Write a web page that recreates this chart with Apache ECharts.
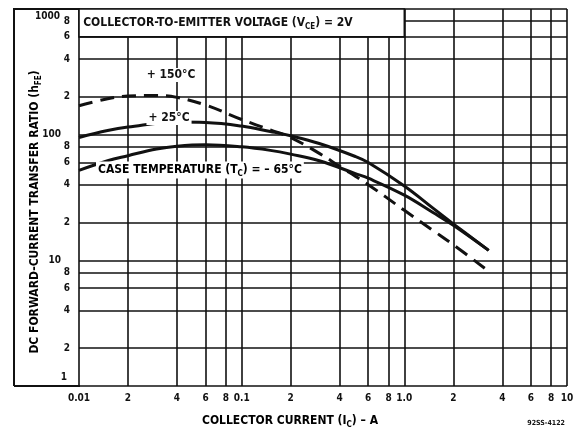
<!DOCTYPE html>
<html>
<head>
<meta charset="utf-8">
<script src="https://cdn.jsdelivr.net/npm/echarts@6/dist/echarts.min.js"></script>
<style>
  html, body { margin: 0; padding: 0; background: #fff; }
  #chart { width: 577px; height: 434px; }
</style>
</head>
<body>
<div id="chart"></div>
<script>
// collector current (A) vs dc forward-current transfer ratio, per case temperature
var ic150 = [0.01, 0.015, 0.02, 0.03, 0.04, 0.06, 0.1, 0.15, 0.2, 0.3, 0.4, 0.6, 1.0, 1.5, 2.0, 3.3];
var hfe150 = [170, 193, 203, 205, 198, 172, 132, 109, 95, 71, 56, 40, 25, 17.3, 13.3, 8.2];

var ic25 = [0.01, 0.015, 0.02, 0.04, 0.06, 0.1, 0.15, 0.2, 0.3, 0.5, 0.6, 1.0, 1.5, 2.0, 3.3];
var hfe25 = [95, 108, 115, 126, 125, 117, 106, 98, 85, 67, 60, 39, 26, 19.5, 12];

var icM65 = [0.01, 0.015, 0.02, 0.03, 0.04, 0.06, 0.1, 0.15, 0.2, 0.3, 0.5, 0.6, 1.0, 1.5, 2.0, 3.3];
var hfeM65 = [52, 62, 68, 77, 81, 83, 80, 75, 70, 62, 49, 45, 33, 24, 19, 12];

var xTickValues = [0.01, 0.02, 0.04, 0.06, 0.08, 0.1, 0.2, 0.4, 0.6, 0.8, 1, 2, 4, 6, 8, 10];
var xTickLabels = ['0.01', '2', '4', '6', '8', '0.1', '2', '4', '6', '8', '1.0', '2', '4', '6', '8', '10'];
var yTickValues = [1, 2, 4, 6, 8, 10, 20, 40, 60, 80, 100, 200, 400, 600, 800, 1000];
var yTickLabels = ['1', '2', '4', '6', '8', '10', '2', '4', '6', '8', '100', '2', '4', '6', '8', '1000'];

function pairs(xs, ys) {
  return xs.map(function (x, i) { return [x, ys[i]]; });
}

var font = 'DejaVu Sans Condensed';
var ink = '#111';
var tickFont = { fontFamily: font, fontWeight: 'bold', fontSize: 10, color: ink };

// grid lines drawn as mark lines so the 2-4-6-8 log subdivisions show
var gridLines = [];
xTickValues.forEach(function (v, i) {
  gridLines.push({ xAxis: v, label: { formatter: xTickLabels[i] } });
});
yTickValues.forEach(function (v, i) {
  var lab = yTickLabels[i];
  var item = { yAxis: v, label: { formatter: lab, position: 'start', distance: lab.length > 1 ? 18 : 9 } };
  // the end labels sit off their lines in the original, placed below as text
  if (i === 0 || i === yTickValues.length - 1) item.label.show = false;
  gridLines.push(item);
});

var textStyleRich = {
  a: { fontFamily: font, fontWeight: 'bold', fontSize: 12, color: ink },
  s: { fontFamily: font, fontWeight: 'bold', fontSize: 8, color: ink, padding: [7, 0, 0, 0] }
};

function plainText(x, y, text, align) {
  return {
    type: 'text', x: x, y: y, z: 10,
    style: { text: text, fontFamily: font, fontWeight: 'bold', fontSize: 10, fill: ink, align: align, verticalAlign: 'middle' }
  };
}

var chart = echarts.init(document.getElementById('chart'));
var option = {
  animation: false,
  backgroundColor: '#fff',
  grid: { left: 79, right: 10, top: 9, bottom: 48 },
  xAxis: {
    type: 'log', logBase: 10, min: 0.01, max: 10,
    axisLine: { show: false }, axisTick: { show: false },
    axisLabel: { show: false }, splitLine: { show: false }
  },
  yAxis: {
    type: 'log', logBase: 10, min: 1, max: 1000,
    axisLine: { show: false }, axisTick: { show: false },
    axisLabel: { show: false }, splitLine: { show: false }
  },
  series: [
    {
      name: '+150°C', type: 'line', z: 3, smooth: 0.4, showSymbol: false,
      lineStyle: { color: ink, width: 3, type: [14, 8] },
      data: pairs(ic150, hfe150)
    },
    {
      name: '+25°C', type: 'line', z: 3, smooth: 0.4, showSymbol: false,
      lineStyle: { color: ink, width: 3 },
      data: pairs(ic25, hfe25),
      markLine: {
        silent: true, symbol: 'none', z: 1, animation: false,
        lineStyle: { color: ink, width: 1.6, type: 'solid' },
        label: Object.assign({ position: 'start', distance: 7 }, tickFont),
        emphasis: { disabled: true },
        data: gridLines
      },
      markArea: {
        silent: true, z: 4,
        itemStyle: { color: '#fff', borderColor: ink, borderWidth: 1.6 },
        label: {
          position: 'insideLeft', distance: 5,
          formatter: '{a|COLLECTOR-TO-EMITTER VOLTAGE (V}{s|CE}{a|) = 2V}',
          rich: textStyleRich
        },
        data: [[{ coord: [0.01, 600] }, { coord: [1.0, 1000] }]]
      }
    },
    {
      name: '-65°C', type: 'line', z: 3, smooth: 0.4, showSymbol: false,
      lineStyle: { color: ink, width: 3 },
      data: pairs(icM65, hfeM65)
    }
  ],
  graphic: [
    {
      type: 'polyline', silent: true,
      shape: { points: [[14, 386], [14, 9], [80, 9]] },
      style: { stroke: ink, lineWidth: 2, fill: null }
    },
    {
      type: 'line', silent: true,
      shape: { x1: 14, y1: 386, x2: 80, y2: 386 },
      style: { stroke: ink, lineWidth: 2 }
    },
    plainText(60, 16, yTickLabels[yTickLabels.length - 1], 'right'),
    plainText(67, 377, yTickLabels[0], 'right'),
    {
      type: 'text', x: 35, y: 212, rotation: Math.PI / 2,
      style: {
        text: '{a|DC FORWARD-CURRENT TRANSFER RATIO (h}{s|FE}{a|)}',
        rich: textStyleRich, align: 'center', verticalAlign: 'middle'
      }
    },
    {
      type: 'text', x: 290, y: 421,
      style: {
        text: '{a|COLLECTOR CURRENT (I}{s|C}{a|) – A}',
        rich: textStyleRich, align: 'center', verticalAlign: 'middle'
      }
    },
    {
      type: 'text', x: 565, y: 423,
      style: { text: '92SS-4122', fontFamily: font, fontWeight: 'bold', fontSize: 7, fill: ink, align: 'right', verticalAlign: 'middle' }
    },
    {
      type: 'text', x: 171, y: 75, z: 10,
      style: {
        text: '+ 150°C', fontFamily: font, fontWeight: 'bold', fontSize: 12, fill: ink,
        align: 'center', verticalAlign: 'middle', backgroundColor: '#fff', padding: [1, 2]
      }
    },
    {
      type: 'text', x: 169, y: 118, z: 10,
      style: {
        text: '+ 25°C', fontFamily: font, fontWeight: 'bold', fontSize: 12, fill: ink,
        align: 'center', verticalAlign: 'middle', backgroundColor: '#fff', padding: [1, 2]
      }
    },
    {
      type: 'text', x: 96, y: 170, z: 10,
      style: {
        text: '{a|CASE TEMPERATURE (T}{s|C}{a|) = – 65°C}',
        rich: textStyleRich, align: 'left', verticalAlign: 'middle',
        backgroundColor: '#fff', padding: [1, 2]
      }
    }
  ]
};
chart.setOption(option);
</script>
</body>
</html>
